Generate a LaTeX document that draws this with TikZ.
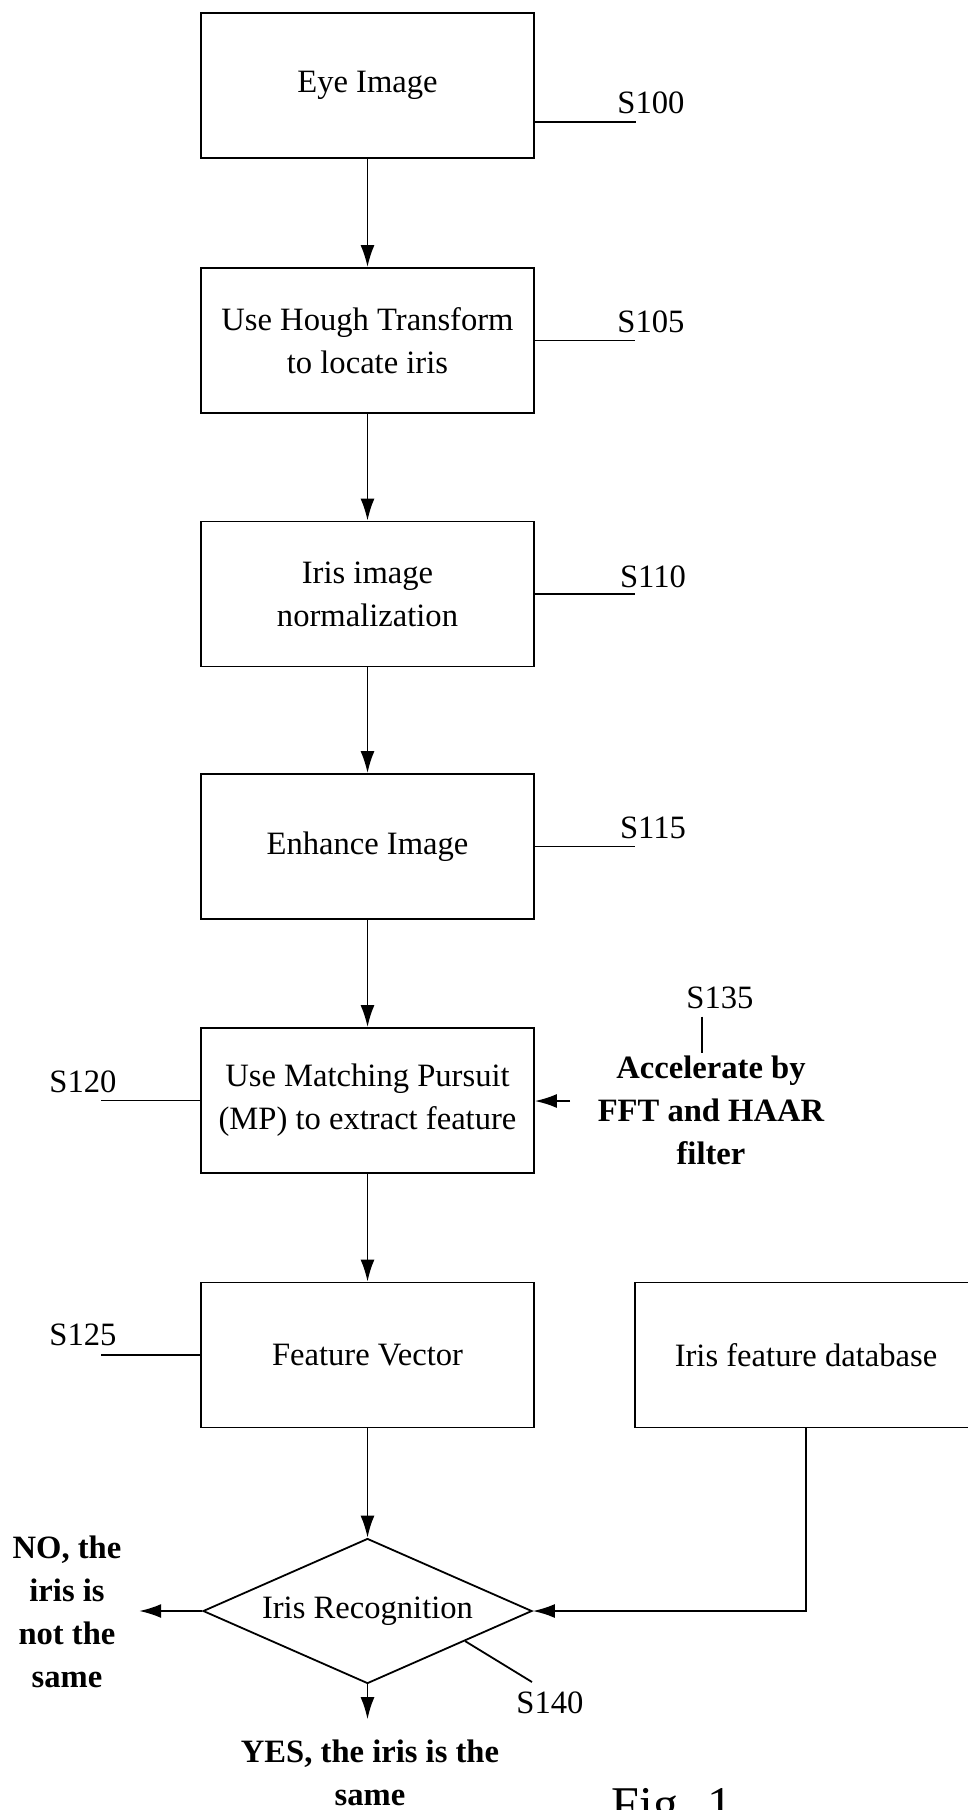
\documentclass[tikz,border=0pt]{standalone}
\usepackage{fontspec}
\setmainfont{Liberation Serif}
\usetikzlibrary{shapes.geometric,arrows.meta,calc}

\begin{document}
\begin{tikzpicture}[x=0.5pt,y=-0.5pt,line width=0.9pt,
	>={Latex[length=11pt,width=7pt]},
	every node/.style={font=\fontsize{16.3pt}{21.5pt}\selectfont},
	stepbox/.style={draw,rectangle,minimum width=166.5pt,minimum height=72.5pt,align=center,inner sep=0pt},
	decide/.style={draw,diamond,aspect=2.27,minimum width=164.5pt,minimum height=72.5pt,inner sep=1pt},
	outcome/.style={align=center,font=\fontsize{16.3pt}{21.5pt}\selectfont\bfseries}]
		\useasboundingbox (0,0) rectangle (968,1810);
		\node[stepbox] (eye) at (367.5,85.5) {Eye Image};
		\node[stepbox] (hough) at (367.5,340.5) {Use Hough Transform\\to locate iris};
		\node[stepbox] (norm) at (367.5,594) {Iris image\\normalization};
		\node[stepbox] (enh) at (367.5,846.5) {Enhance Image};
		\node[stepbox] (mp) at (367.5,1100.5) {Use Matching Pursuit\\(MP) to extract feature};
		\node[stepbox] (vec) at (367.5,1355) {Feature Vector};
		\node[stepbox,minimum width=171pt] (db) at (806,1355) {Iris feature database};
		\node[decide] (rec) at (367.5,1611) {Iris Recognition};
		\node[outcome,inner xsep=8.5pt] (no) at (67,1612) {NO, the\\iris is\\not the\\same};
		\node[outcome,inner ysep=10pt] (yes) at (370,1773) {YES, the iris is the\\same};
		\node[outcome] (accel) at (711,1110) {Accelerate by\\FFT and HAAR\\filter};
		\draw[->] (eye) -- (hough);
		\draw[->] (hough) -- (norm);
		\draw[->] (norm) -- (enh);
		\draw[->] (enh) -- (mp);
		\draw[->] (mp) -- (vec);
		\draw[->] (vec) -- (rec);
		\draw[->] (db.south) |- (rec.east);
		\draw[->] (rec.west) -- (rec.west -| no.east);
		\draw[->] (rec.south) -- (rec.south |- yes.north);
		\coordinate (accin) at (570,1101);
		\draw[->] (accin) -- (mp.east |- accin);
		\node (s100) at (651,103) {S100};
		\coordinate (s100end) at (636,122);
		\draw (eye.east |- s100end) -- (s100end);
		\node (s105) at (651,322) {S105};
		\coordinate (s105end) at (635,340.5);
		\draw (hough.east |- s105end) -- (s105end);
		\node (s110) at (653,577) {S110};
		\coordinate (s110end) at (635,594);
		\draw (norm.east |- s110end) -- (s110end);
		\node (s115) at (653,828) {S115};
		\coordinate (s115end) at (635,846.5);
		\draw (enh.east |- s115end) -- (s115end);
		\node (s120) at (83,1082) {S120};
		\coordinate (s120end) at (101,1100.5);
		\draw (s120end) -- (s120end -| mp.west);
		\node (s125) at (83,1335) {S125};
		\coordinate (s125end) at (101,1355);
		\draw (s125end) -- (s125end -| vec.west);
		\node (s135) at (720,998) {S135};
		\coordinate (s135end) at (702,1053);
		\draw (s135end |- s135.south) -- (s135end);
		\node (s140) at (550,1703) {S140};
		\coordinate (s140end) at (532,1682);
		\draw ($(rec.east)!0.41!(rec.south)$) -- (s140end);
		\node[font=\fontsize{25pt}{30pt}\selectfont,anchor=base west] (fig) at (604,1821) {Fig. 1};
\end{tikzpicture}
\end{document}
